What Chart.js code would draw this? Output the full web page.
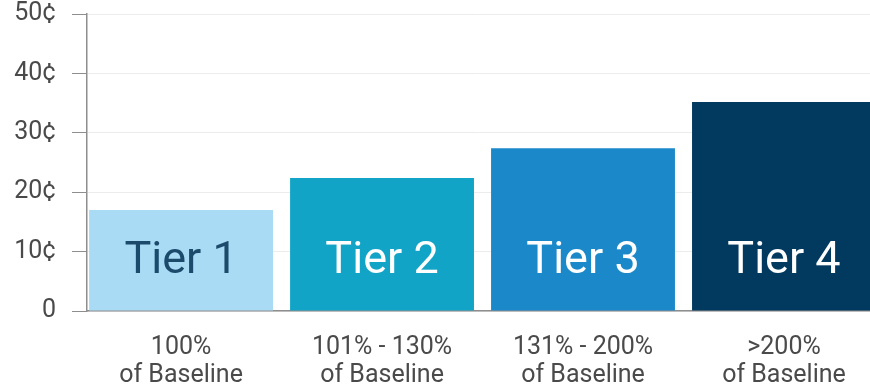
<!DOCTYPE html>
<html>
<head>
<meta charset="utf-8">
<script src="https://cdn.jsdelivr.net/npm/chart.js@4/dist/chart.umd.min.js"></script>
<style>
  html, body { margin: 0; padding: 0; background: #fff; overflow: hidden; }
  #wrap { width: 870px; height: 392px; position: relative; }
</style>
</head>
<body>
<div id="wrap"><canvas id="tierChart"></canvas></div>
<script>
// 데이터
const tierNames = ['Tier 1', 'Tier 2', 'Tier 3', 'Tier 4'];
const rangeLabels = [
  ['100%', 'of Baseline'],
  ['101% - 130%', 'of Baseline'],
  ['131% - 200%', 'of Baseline'],
  ['>200%', 'of Baseline']
];
const priceCents = [17.0, 22.4, 27.4, 35.2];
const yTicks = [0, 10, 20, 30, 40, 50];

const barColors = ['#a9dbf5', '#12a4c6', '#1b88c9', '#023a5f'];
const tierTextColors = ['#1b4a6b', '#ffffff', '#ffffff', '#ffffff'];

// 막대 안쪽 Tier 라벨
const tierLabelPlugin = {
  id: 'tierLabels',
  afterDatasetsDraw(chart) {
    const ctx = chart.ctx;
    const meta = chart.getDatasetMeta(0);
    ctx.save();
    ctx.font = '400 45px Roboto';
    ctx.textAlign = 'center';
    ctx.textBaseline = 'middle';
    meta.data.forEach((bar, i) => {
      ctx.fillStyle = tierTextColors[i];
      ctx.fillText(tierNames[i], bar.x, bar.base - 49);
    });
    ctx.restore();
  }
};

new Chart(document.getElementById('tierChart'), {
  type: 'bar',
  data: {
    datasets: [{
      data: priceCents.map((v, i) => ({ x: i, y: v })),
      backgroundColor: barColors,
      borderWidth: 0,
      categoryPercentage: 1,
      barPercentage: 0.915
    }]
  },
  options: {
    responsive: true,
    maintainAspectRatio: false,
    animation: false,
    layout: { padding: 0 },
    plugins: { legend: { display: false }, tooltip: { enabled: false } },
    scales: {
      x: {
        type: 'linear',
        offset: false,
        min: -0.468,
        max: 3.428,
        afterBuildTicks(scale) {
          scale.ticks = tierNames.map((_, i) => ({ value: i }));
        },
        afterFit(scale) { scale.height = 81; },
        grid: { drawOnChartArea: false, drawTicks: false },
        border: { color: '#8e8e8e', width: 1.5 },
        ticks: {
          autoSkip: false,
          maxRotation: 0,
          padding: 22,
          color: '#4a4a4a',
          font: { family: 'Roboto', size: 25, lineHeight: 1.15 },
          callback: v => rangeLabels[v]
        }
      },
      y: {
        min: 0,
        max: 50,
        afterBuildTicks(scale) {
          scale.ticks = yTicks.map(v => ({ value: v }));
        },
        afterFit(scale) {
          scale.width = 87;
          scale.paddingTop = 14;
          scale.paddingBottom = 0;
        },
        grid: { color: '#ececec', tickColor: '#8e8e8e', tickLength: 15 },
        border: { color: '#8e8e8e', width: 1.5 },
        ticks: {
          padding: 16,
          color: '#4a4a4a',
          font: { family: 'Roboto', size: 25 },
          callback: v => (v === 0 ? '0' : v + '¢')
        }
      }
    }
  },
  plugins: [tierLabelPlugin]
});
</script>
</body>
</html>
